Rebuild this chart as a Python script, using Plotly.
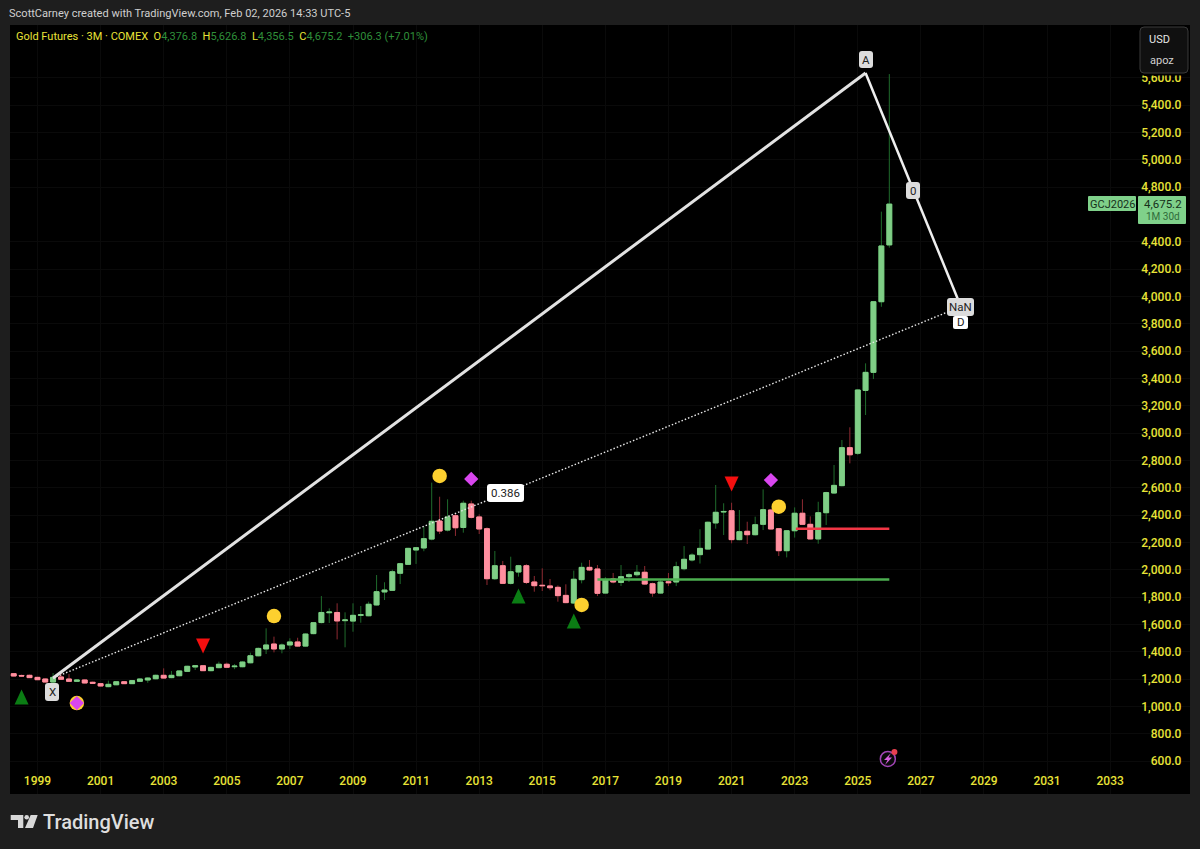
import pandas as pd
import plotly.graph_objects as go

BAR_START = "1998-04-01"
open_ = [1239,1226,1227,1212,1200,1178,1215,1200,1183,1193,1176,1166,1144,1158,1180,1166,1183,1193,1202,1227,1210,1224,1256,1288,1297,1261,1283,1308,1290,1290,1319,1370,1420,1456,1420,1449,1471,1441,1532,1613,1685,1687,1627,1624,1666,1663,1742,1837,1849,1974,2039,2144,2159,2224,2356,2290,2395,2309,2481,2386,2300,1934,2029,1900,1983,2029,1910,1886,1881,1871,1812,1756,1927,2017,2005,1829,1932,1907,1949,1963,1981,1897,1829,1912,1910,2007,2071,2110,2151,2342,2422,2431,2220,2281,2256,2332,2437,2300,2139,2285,2413,2332,2225,2417,2561,2615,2893,2852,3312,3444,3961,4376.8]
high = [1243,1232,1232,1216,1204,1244,1253,1237,1197,1197,1181,1169,1188,1184,1185,1192,1204,1212,1232,1278,1259,1263,1297,1300,1300,1289,1327,1320,1310,1330,1393,1430,1571,1510,1460,1498,1502,1533,1616,1807,1717,1754,1688,1754,1734,1766,1961,1908,2000,2050,2160,2165,2315,2637,2534,2515,2410,2505,2505,2405,2310,2137,2064,2095,2035,2040,1954,2010,1932,1885,1893,1993,2051,2071,2034,1946,1976,2034,1975,2034,2027,1905,1925,1976,2058,2173,2120,2296,2352,2620,2486,2490,2437,2351,2388,2588,2445,2305,2290,2456,2515,2390,2497,2570,2766,2949,3042,3320,3510,3965,4620,5626.8]
low = [1220,1217,1208,1193,1176,1172,1194,1180,1180,1168,1165,1146,1140,1155,1163,1163,1180,1172,1198,1203,1206,1220,1252,1266,1258,1257,1279,1282,1272,1286,1315,1366,1383,1395,1388,1420,1437,1437,1528,1607,1610,1490,1432,1546,1612,1659,1738,1778,1845,1895,2035,2042,2135,2215,2261,2280,2247,2271,2375,2261,1888,1925,1895,1892,1949,1895,1839,1844,1850,1766,1755,1750,1900,1990,1807,1825,1900,1881,1910,1949,1890,1802,1825,1880,1880,1995,2060,2045,2147,2300,2254,2193,2215,2188,2250,2290,2293,2100,2090,2235,2327,2222,2190,2327,2555,2610,2778,2840,3132,3395,3924,4356.5]
close = [1222,1222,1210,1195,1178,1212,1198,1183,1193,1171,1169,1149,1161,1180,1166,1188,1200,1207,1227,1207,1227,1259,1293,1297,1261,1285,1308,1286,1294,1324,1370,1424,1449,1420,1449,1471,1441,1529,1612,1687,1690,1625,1632,1666,1670,1747,1839,1851,1985,2044,2156,2161,2227,2354,2283,2386,2307,2486,2383,2298,1934,2029,1900,1985,2029,1907,1883,1883,1868,1810,1759,1930,2017,1998,1827,1925,1910,1949,1963,1981,1895,1829,1910,1905,2022,2076,2107,2156,2347,2420,2426,2220,2278,2256,2329,2439,2298,2139,2285,2413,2332,2225,2417,2564,2617,2893,2841,3315,3444,3961,4369,4675.2]

dates = pd.date_range(BAR_START, periods=len(open_), freq="QS")
year_ticks = [f"{y}-01-01" for y in range(1999, 2034, 2)]
year_labels = [str(y) for y in range(1999, 2034, 2)]
price_ticks = [p for p in range(600, 5601, 200) if p != 4600]

pattern_x_date = ["1999-07-01", "2025-04-01", "2028-04-01"]
pattern_x_price = [1207, 5635, 3937]
xd_dates = ["1999-07-01", "2028-01-01"]
xd_prices = [1207, 3900]
tri_up_idx, tri_up_price = [1, 64, 71], [1068, 1807, 1625]
tri_dn_idx, tri_dn_price = [24, 91], [1442, 2627]
circle_idx, circle_price = [8, 33, 54, 72, 97], [1024, 1661, 2686, 1742, 2461]
diamond_idx, diamond_price = [8, 58, 96], [1024, 2664, 2656]
support_dates = ["2016-10-01", "2026-01-01"]
support_price = [1929, 1929]
resist_dates = ["2023-01-15", "2026-01-01"]
resist_price = [2300, 2300]

BG = "#1e1e1e"
YEL = "#e8e337"
UP_FILL = "#7fce86"
DN_FILL = "#ff8f9f"
UP_WICK = "#1f6b2c"
DN_WICK = "#8e2a32"
FONT = "Roboto"


def fx(x):
    return (x - 10) / 1180


def fy(y):
    return (794 - y) / 769


def rrect(x0, y0, x1, y1, r, fill, line=None):
    a, b, c, d = fx(x0), fx(x1), fy(y0), fy(y1)
    rx, ry = r / 1180, r / 769
    p = (f"M {a+rx} {c} L {b-rx} {c} Q {b} {c} {b} {c-ry} L {b} {d+ry} Q {b} {d} {b-rx} {d} "
         f"L {a+rx} {d} Q {a} {d} {a} {d+ry} L {a} {c-ry} Q {a} {c} {a+rx} {c} Z")
    return dict(type="path", xref="paper", yref="paper", path=p, fillcolor=fill,
                line=dict(color=line or fill, width=1 if line else 0), layer="above")


def label(x, y, text, color="#222222", size=11.5, anchor="center", weight=None):
    return dict(xref="paper", yref="paper", x=fx(x), y=fy(y), text=text, showarrow=False,
                xanchor=anchor, yanchor="middle",
                font=dict(family=FONT, size=size, color=color, weight=weight or 400),
                borderpad=0)


def tri(date, price, path, color):
    return dict(type="path", xref="x", yref="y", xsizemode="pixel", ysizemode="pixel",
                xanchor=date, yanchor=price, path=path, fillcolor=color, line=dict(width=0), layer="above")


def poly(points, fill):
    p = "M " + " L ".join(f"{fx(a)} {fy(b)}" for a, b in points) + " Z"
    return dict(type="path", xref="paper", yref="paper", layer="above", fillcolor=fill, line=dict(width=0), path=p)


fig = go.Figure()
fig.add_trace(go.Candlestick(
    x=dates, open=open_, high=high, low=low, close=close,
    increasing=dict(line=dict(color=UP_WICK, width=1), fillcolor=UP_FILL),
    decreasing=dict(line=dict(color=DN_WICK, width=1), fillcolor=DN_FILL),
    showlegend=False, hoverinfo="skip"))
body_hi = [max(o, c) for o, c in zip(open_, close)]
body_lo = [min(o, c) for o, c in zip(open_, close)]
fig.add_trace(go.Candlestick(
    x=dates, open=open_, high=body_hi, low=body_lo, close=close,
    increasing=dict(line=dict(color=UP_FILL, width=1), fillcolor=UP_FILL),
    decreasing=dict(line=dict(color=DN_FILL, width=1), fillcolor=DN_FILL),
    showlegend=False, hoverinfo="skip"))

fig.add_trace(go.Scatter(x=support_dates, y=support_price, mode="lines",
                         line=dict(color="#4caf50", width=2.5), showlegend=False, hoverinfo="skip"))
fig.add_trace(go.Scatter(x=resist_dates, y=resist_price, mode="lines",
                         line=dict(color="#f23645", width=2.5), showlegend=False, hoverinfo="skip"))
fig.add_trace(go.Scatter(x=xd_dates, y=xd_prices, mode="lines",
                         line=dict(color="#e8e8e8", width=1.4, dash="1.5px,2px"), showlegend=False, hoverinfo="skip"))
fig.add_trace(go.Scatter(x=pattern_x_date[:2], y=pattern_x_price[:2], mode="lines",
                         line=dict(color="#e2e2e2", width=3), showlegend=False, hoverinfo="skip"))
fig.add_trace(go.Scatter(x=pattern_x_date[1:], y=pattern_x_price[1:], mode="lines",
                         line=dict(color="#efefef", width=2.5), showlegend=False, hoverinfo="skip"))


def markers(idx, price, symbol, color, size):
    fig.add_trace(go.Scatter(x=[dates[i] for i in idx], y=price, mode="markers",
                             marker=dict(symbol=symbol, color=color, size=size, line=dict(width=0)),
                             showlegend=False, hoverinfo="skip"))


markers(circle_idx, circle_price, "circle", "#fdd02f", 14.5)
markers(diamond_idx, diamond_price, "diamond", "#d946ef", 11)

fig.add_trace(go.Scatter(x=["2025-12-15"], y=[615], mode="markers",
                         marker=dict(symbol="circle", color="#0a0a0a", size=15,
                                     line=dict(color="#a044b5", width=1.5)),
                         showlegend=False, hoverinfo="skip"))
fig.add_trace(go.Scatter(x=["2026-03-01"], y=[666], mode="markers",
                         marker=dict(symbol="circle", color="#e8404f", size=6, line=dict(width=0)),
                         showlegend=False, hoverinfo="skip"))

UP_PATH = "M -7 -7.5 L 7 -7.5 L 0 7.5 Z"
DN_PATH = "M -7 7.5 L 7 7.5 L 0 -7.5 Z"
shapes = [tri(dates[i], p, UP_PATH, "#0b7d14") for i, p in zip(tri_up_idx, tri_up_price)]
shapes += [tri(dates[i], p, DN_PATH, "#f50f0f") for i, p in zip(tri_dn_idx, tri_dn_price)]
shapes += [
    rrect(1120, 73, 1188, 75.5, 0, "#000000"),
    rrect(1140, 27, 1188, 73, 4, "#101010", "#3a3a3a"),
    rrect(859, 51, 873, 68, 3, "#dcdcdc"),
    rrect(906, 182, 920, 199, 3, "#dcdcdc"),
    rrect(947, 298, 974, 316, 3, "#dcdcdc"),
    rrect(953, 316, 968, 329, 2, "#ffffff"),
    rrect(45, 683, 59, 701, 3, "#dcdcdc"),
    rrect(487, 484, 524, 502, 3, "#ffffff"),
    rrect(1138, 196, 1186, 224, 1, "#7fd18a"),
    rrect(1088, 196, 1136, 211, 1, "#7fd18a"),
    poly([(10.7, 815), (23.3, 815), (23.3, 828), (18, 828), (18, 820), (10.7, 820)], "#d8d8d8"),
    poly([(30.7, 815), (37.7, 815), (33, 828), (25, 828)], "#d8d8d8"),
    dict(type="circle", xref="paper", yref="paper", layer="above", fillcolor="#d8d8d8", line=dict(width=0),
         x0=fx(24.4), x1=fx(29), y0=fy(819.5), y1=fy(815)),
    poly([(891, 753), (884, 760), (887.5, 760), (885, 765), (892, 757.5), (888.5, 757.5)], "#d85fe0"),
]

G = "#2f8f3a"
header = (f'<span style="color:{YEL}">Gold Futures · 3M · COMEX  O</span><span style="color:{G}">4,376.8  </span>'
          f'<span style="color:{YEL}">H</span><span style="color:{G}">5,626.8  </span>'
          f'<span style="color:{YEL}">L</span><span style="color:{G}">4,356.5  </span>'
          f'<span style="color:{YEL}">C</span><span style="color:{G}">4,675.2  +306.3 (+7.01%)</span>')

annotations = [
    label(8, 13, "ScottCarney created with TradingView.com, Feb 02, 2026 14:33 UTC-5", "#cfcfcf", 11.05, "left"),
    label(15, 37, header, YEL, 11, "left"),
    label(866, 60, "A"),
    label(913, 191, "0"),
    label(960.5, 307, "NaN"),
    label(960.5, 322, "D"),
    label(52, 692, "X"),
    label(505.5, 493, "0.386"),
    label(1148, 39, "USD", "#e6e6e6", 11, "left"),
    label(1149, 60, "apoz", "#d0d0d0", 11, "left"),
    label(1163, 204, "4,675.2", "#16301a", 11.5),
    label(1163, 216, "1M 30d", "#2f6b3a", 10),
    label(1112, 204, "GCJ2026", "#16301a", 11),
    label(42, 822, "TradingView", "#dedede", 20, "left", 500),
]

fig.update_layout(
    width=1200, height=849, autosize=False,
    margin=dict(l=10, r=10, t=25, b=55, pad=0),
    paper_bgcolor=BG, plot_bgcolor="#000000",
    font=dict(family=FONT, color=YEL, size=12),
    boxgap=0.1,
    showlegend=False,
    shapes=shapes, annotations=annotations,
    xaxis=dict(type="date", range=["1998-02-17", "2035-07-14"], rangeslider=dict(visible=False),
               tickvals=year_ticks, ticktext=year_labels, ticklabelposition="inside", side="bottom",
               ticks="inside", ticklen=6, tickcolor="rgba(0,0,0,0)",
               tickfont=dict(family=FONT, size=12, color=YEL, weight=500),
               showgrid=True, gridcolor="#0a0a0a", zeroline=False, showline=False),
    yaxis=dict(type="linear", side="right", range=[358.5, 5986], tickvals=price_ticks, tickformat=",.1f",
               ticklabelposition="inside", ticks="inside", ticklen=8, tickcolor="rgba(0,0,0,0)",
               tickfont=dict(family=FONT, size=12, color=YEL, weight=500),
               showgrid=True, gridcolor="#0a0a0a", zeroline=False, showline=False),
)

fig.write_html("out.html", config={"displayModeBar": False}, post_script="document.body.style.margin='0';")
